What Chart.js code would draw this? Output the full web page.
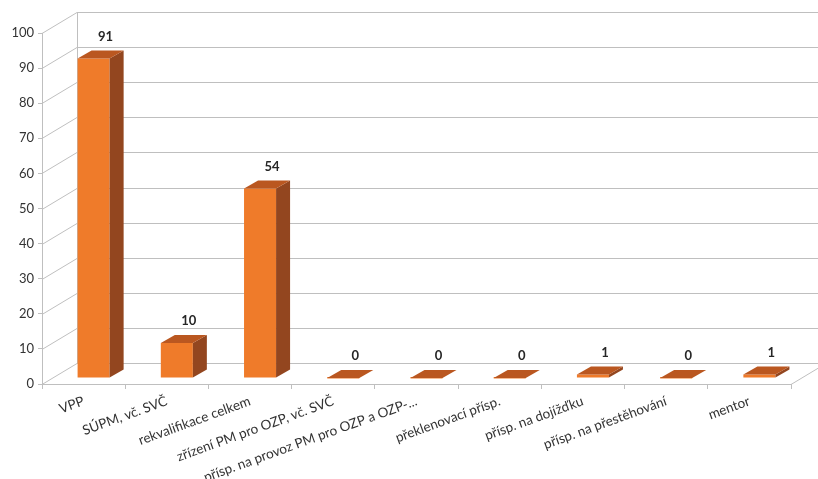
<!DOCTYPE html>
<html>
<head>
<meta charset="utf-8">
<script src="https://cdn.jsdelivr.net/npm/chart.js@4"></script>
<style>html,body{margin:0;padding:0;background:#fff}</style>
</head>
<body>
<canvas id="graf" width="818" height="479"></canvas>
<script>
var kategorie = ['VPP', 'SÚPM, vč. SVČ', 'rekvalifikace celkem', 'zřízení PM pro OZP, vč. SVČ',
    'přísp. na provoz PM pro OZP a OZP-...', 'překlenovací přísp.', 'přísp. na dojížďku',
    'přísp. na přestěhování', 'mentor'];
var hodnoty = [91, 10, 54, 0, 0, 0, 1, 0, 1];
var osaY = [0, 100, 10];

// 3D posuny (zadni stena, celo sloupce, hloubka sloupce)
var stena = {dx: 35, dy: -21};
var celo = {dx: 10, dy: -6};
var bok = {dx: 14, dy: -8};
var seda = '#BFBFBF';

var prostor = {
    id: 'prostor',
    beforeDatasetsDraw: function(chart) {
        var c = chart.ctx, x = chart.scales.x, y = chart.scales.y;
        var L = x.left, R = x.right, B = y.bottom;
        c.save();
        c.strokeStyle = seda;
        c.lineWidth = 1;
        y.ticks.forEach(function(t) {
            var py = Math.round(y.getPixelForValue(t.value)) + 0.5;
            c.beginPath();
            c.moveTo(L, py);
            c.lineTo(L + stena.dx, py + stena.dy);
            c.lineTo(R + stena.dx + 40, py + stena.dy);
            c.stroke();
        });
        c.beginPath();
        c.moveTo(L + stena.dx + 0.5, y.top + stena.dy);
        c.lineTo(L + stena.dx + 0.5, B + stena.dy);
        c.stroke();
        c.beginPath();
        c.moveTo(R, B + 0.5);
        c.lineTo(R + stena.dx, B + 0.5 + stena.dy);
        c.stroke();
        c.restore();
        c.save();
        c.translate(celo.dx, celo.dy);
    },
    afterDatasetsDraw: function(chart) {
        var c = chart.ctx;
        c.restore();
        var meta = chart.getDatasetMeta(0);
        c.save();
        meta.data.forEach(function(el, i) {
            var x0 = el.x - el.width / 2 + celo.dx, x1 = el.x + el.width / 2 + celo.dx;
            var yt = el.y + celo.dy, yb = el.base + celo.dy;
            if (yb - yt < 1) {
                c.fillStyle = '#EF7B2A';
                c.fillRect(x0, yt - 1, x1 - x0, 1.5);
            }
            // bok
            c.fillStyle = '#93461F';
            c.beginPath();
            c.moveTo(x1, yb); c.lineTo(x1, yt);
            c.lineTo(x1 + bok.dx, yt + bok.dy); c.lineTo(x1 + bok.dx, yb + bok.dy);
            c.closePath(); c.fill();
            // vrsek
            c.fillStyle = '#BA5720';
            c.beginPath();
            c.moveTo(x0, yt); c.lineTo(x1, yt);
            c.lineTo(x1 + bok.dx, yt + bok.dy); c.lineTo(x0 + bok.dx, yt + bok.dy);
            c.closePath(); c.fill();
            // popisek
            c.fillStyle = '#262626';
            c.font = 'bold 13px Lato';
            c.textAlign = 'center';
            c.textBaseline = 'middle';
            c.fillText(hodnoty[i], el.x + 22, el.y - 28);
        });
        c.restore();
    }
};

var ctx = document.getElementById('graf');
var myChart = new Chart(ctx, {
    type: 'bar',
    data: {
        labels: kategorie,
        datasets: [{
            data: hodnoty,
            backgroundColor: '#EF7B2A',
            borderWidth: 0,
            categoryPercentage: 1,
            barPercentage: 0.385
        }]
    },
    options: {
        responsive: false,
        animation: false,
        devicePixelRatio: 1,
        layout: {padding: {top: 33, right: 27, left: 0, bottom: 0}},
        plugins: {legend: {display: false}, tooltip: {enabled: false}},
        scales: {
            x: {
                afterFit: function(s) { s.height = 95; },
                grid: {drawOnChartArea: false, tickLength: 5, color: seda, offset: true},
                border: {color: seda},
                ticks: {
                    autoSkip: false, minRotation: 20, maxRotation: 20,
                    color: '#333333', font: {family: 'Lato', size: 13.5}, padding: 4
                }
            },
            y: {
                min: osaY[0], max: osaY[1],
                afterFit: function(s) { s.width = 42; },
                grid: {drawOnChartArea: false, tickLength: 4, color: seda},
                border: {color: seda},
                ticks: {stepSize: osaY[2], color: '#333333', font: {family: 'Lato', size: 13}, padding: 4}
            }
        }
    },
    plugins: [prostor]
});
</script>
</body>
</html>
